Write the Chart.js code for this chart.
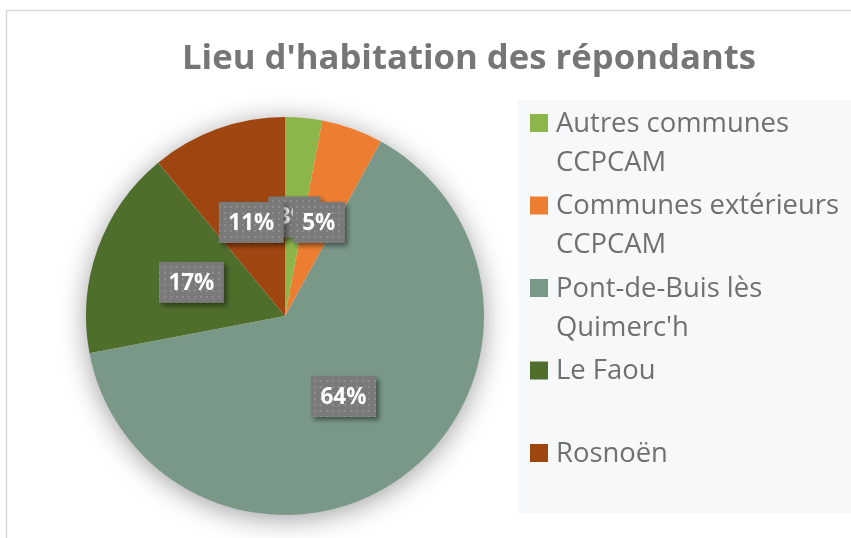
<!DOCTYPE html>
<html>
<head>
<meta charset="utf-8">
<script src="https://cdn.jsdelivr.net/npm/chart.js@4.4.1/dist/chart.umd.min.js"></script>
<style>
  html, body { margin: 0; padding: 0; background: #fff; }
  #chartContainer { position: relative; width: 851px; height: 538px; }
</style>
</head>
<body>
<div id="chartContainer">
  <canvas id="myChart" width="851" height="538"></canvas>
</div>
<script>
// data
const chartTitle = "Lieu d'habitation des répondants"
const categories = ['Autres communes CCPCAM', 'Communes extérieurs CCPCAM', "Pont-de-Buis lès Quimerc'h", 'Le Faou', 'Rosnoën']
const values = [3, 5, 64, 17, 11]
const sliceColors = ['#8cb64a', '#ed7d31', '#7a9888', '#4f6e2c', '#9f4510']

const FONT = '"Open Sans", "Liberation Sans", sans-serif'

// size a font so a text spans a given width
function fitFont(ctx, text, width, weight) {
  ctx.font = `${weight} 100px ${FONT}`
  const size = 100 * width / ctx.measureText(text).width
  return `${weight} ${size.toFixed(1)}px ${FONT}`
}

function wrapText(ctx, text, maxWidth) {
  const words = text.split(' ')
  const lines = []
  let line = ''
  words.forEach(w => {
    const test = line ? line + ' ' + w : w
    if (line && ctx.measureText(test).width > maxWidth) {
      lines.push(line)
      line = w
    } else {
      line = test
    }
  })
  lines.push(line)
  return lines
}

// dotted grey fill used by the data label boxes
function makeDotPattern(ctx) {
  const c = document.createElement('canvas')
  c.width = 6; c.height = 6
  const p = c.getContext('2d')
  p.fillStyle = '#7a7a7a'
  p.fillRect(0, 0, 6, 6)
  p.fillStyle = '#8e8e8e'
  p.fillRect(2, 2, 2, 2)
  return ctx.createPattern(c, 'repeat')
}

const frameAndTitle = {
  id: 'frameAndTitle',
  beforeDraw(chart) {
    const ctx = chart.ctx
    ctx.save()
    // outer chart frame
    ctx.strokeStyle = '#d9d9d9'
    ctx.lineWidth = 1.5
    ctx.beginPath()
    ctx.moveTo(6.5, 540)
    ctx.lineTo(6.5, 10.5)
    ctx.lineTo(855, 10.5)
    ctx.stroke()
    // title
    ctx.fillStyle = '#767676'
    ctx.font = fitFont(ctx, chartTitle, 574, 'bold')
    ctx.textAlign = 'center'
    ctx.textBaseline = 'alphabetic'
    ctx.fillText(chartTitle, 469, 69)
    // legend background
    ctx.fillStyle = '#f6f8fa'
    ctx.fillRect(518, 100, 340, 413)
    ctx.restore()
  },
  beforeDatasetsDraw(chart) {
    // soft shadow behind the pie
    const arc = chart.getDatasetMeta(0).data[0]
    const ctx = chart.ctx
    ctx.save()
    ctx.shadowColor = 'rgba(0,0,0,0.4)'
    ctx.shadowBlur = 28
    ctx.shadowOffsetX = 0
    ctx.shadowOffsetY = 4
    ctx.fillStyle = '#ffffff'
    ctx.beginPath()
    ctx.arc(arc.x, arc.y, arc.outerRadius - 1, 0, Math.PI * 2)
    ctx.fill()
    ctx.restore()
  },
  afterDatasetsDraw(chart) {
    const ctx = chart.ctx
    const meta = chart.getDatasetMeta(0)
    const pattern = makeDotPattern(ctx)
    ctx.save()
    ctx.font = `bold 22.5px ${FONT}`
    ctx.textAlign = 'center'
    ctx.textBaseline = 'middle'
    meta.data.forEach((arc, i) => {
      const pos = arc.tooltipPosition()
      const label = values[i] + '%'
      const w = ctx.measureText(label).width + 19
      const h = 41
      const x = pos.x - w / 2
      const y = pos.y - h / 2
      ctx.save()
      ctx.shadowColor = 'rgba(0,0,0,0.45)'
      ctx.shadowBlur = 5
      ctx.shadowOffsetX = 3
      ctx.shadowOffsetY = 3
      ctx.fillStyle = pattern
      ctx.fillRect(x, y, w, h)
      ctx.restore()
      ctx.fillStyle = '#ffffff'
      ctx.fillText(label, pos.x, pos.y + 1)
    })
    ctx.restore()
  },
  afterDraw(chart) {
    // legend on the right, two lines per entry
    const ctx = chart.ctx
    ctx.save()
    ctx.font = fitFont(ctx, 'Communes extérieurs', 283, 'normal')
    ctx.textAlign = 'left'
    ctx.textBaseline = 'middle'
    categories.forEach((cat, i) => {
      const cy = 123 + i * 82.5
      ctx.fillStyle = sliceColors[i]
      ctx.fillRect(530, cy - 9, 18, 18)
      ctx.fillStyle = '#707070'
      wrapText(ctx, cat, 290).forEach((line, j) => {
        ctx.fillText(line, 556, cy + 1 + j * 39)
      })
    })
    ctx.restore()
  }
}

const ctx = document.getElementById('myChart').getContext('2d')
const myChart = new Chart(ctx, {
  type: 'pie',
  data: {
    labels: categories,
    datasets: [{
      data: values,
      backgroundColor: sliceColors,
      borderWidth: 0
    }]
  },
  options: {
    responsive: false,
    animation: false,
    layout: {
      padding: { left: 86, right: 367, top: 117, bottom: 23 }
    },
    plugins: {
      legend: { display: false },
      tooltip: { enabled: false },
      title: { display: false }
    }
  },
  plugins: [frameAndTitle]
})
</script>
</body>
</html>
